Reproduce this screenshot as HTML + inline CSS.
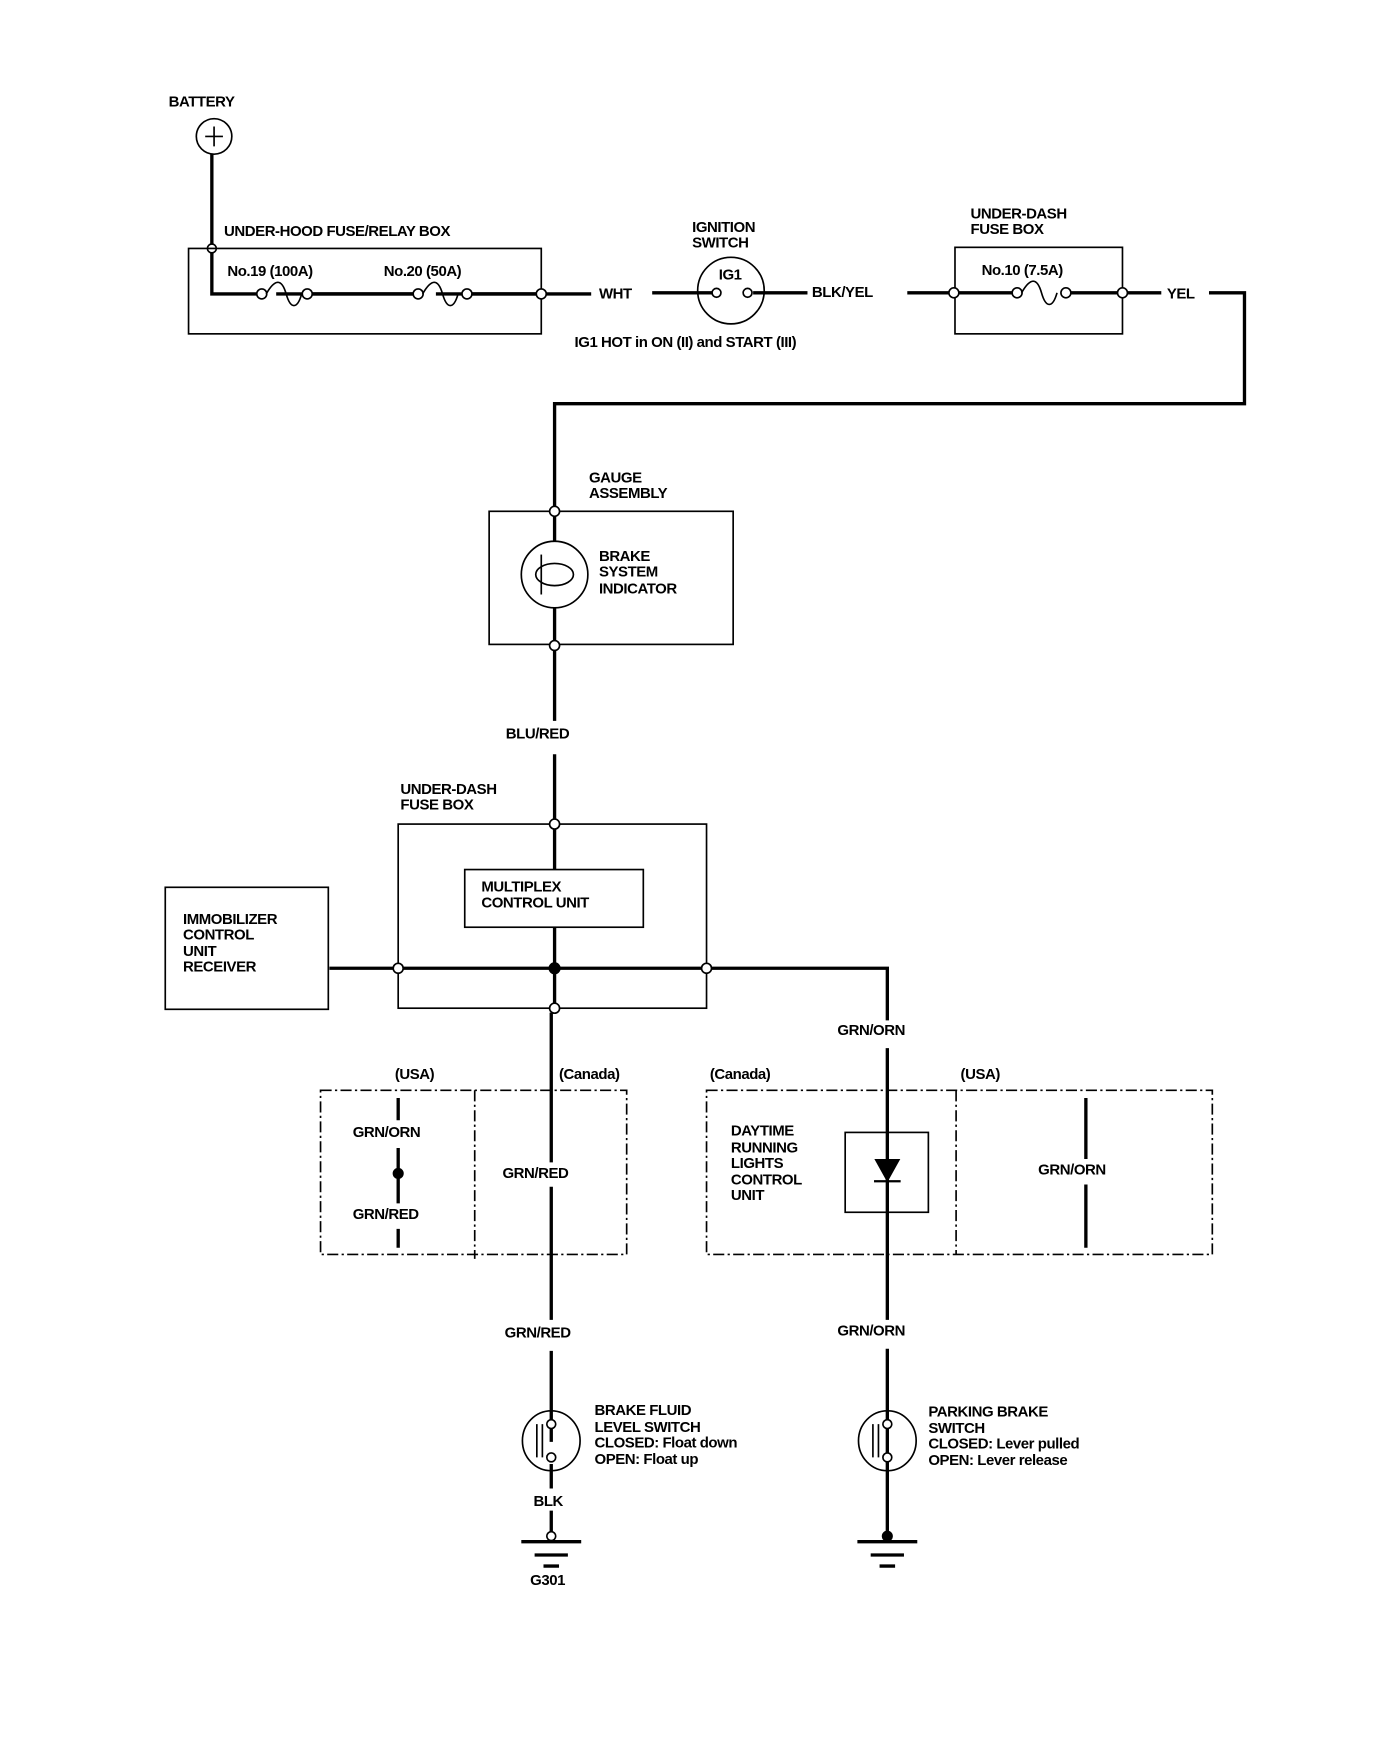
<!DOCTYPE html>
<html><head><meta charset="utf-8"><style>
html,body{margin:0;padding:0;background:#fff;}
svg{display:block;}
text{font-family:"Liberation Sans",Arial,sans-serif;font-weight:bold;font-size:13.5px;fill:#000;letter-spacing:-0.4px;}
</style></head><body>
<svg width="1392" height="1738" viewBox="0 0 1255 1567" preserveAspectRatio="none" xmlns="http://www.w3.org/2000/svg">
<g stroke="#000" fill="none" stroke-width="2">
<circle cx="193" cy="123" r="16" stroke-width="1.5"/>
<path d="M185 123h16M193 114v18" stroke-width="1.5"/>
<path d="M191 139V265H232M249 265H376M393 265H484" stroke-width="3"/>
<circle cx="191" cy="224" r="4" fill="#fff" stroke-width="1.5"/>
<rect x="170" y="224" width="318" height="77" stroke-width="1.5"/>
<circle cx="236" cy="265" r="4.5" fill="#fff" stroke-width="1.5"/>
<circle cx="277" cy="265" r="4.5" fill="#fff" stroke-width="1.5"/>
<path d="M240 265c8 -14 14 -14 18 0s10 14 14 0" stroke-width="1.5"/>
<path d="M281 265H372" stroke-width="3"/>
<circle cx="377" cy="265" r="4.5" fill="#fff" stroke-width="1.5"/>
<circle cx="421" cy="265" r="4.5" fill="#fff" stroke-width="1.5"/>
<path d="M381 265c8 -14 14 -14 18 0s10 14 14 0" stroke-width="1.5"/>
<path d="M426 265H533M588 264H642M679 264H728" stroke-width="3"/>
<circle cx="488" cy="265" r="4.5" fill="#fff" stroke-width="1.5"/>
<circle cx="659" cy="262" r="30" stroke-width="1.5"/>
<circle cx="646" cy="264" r="4" fill="#fff" stroke-width="1.5"/>
<circle cx="674" cy="264" r="4" fill="#fff" stroke-width="1.5"/>
<rect x="861" y="223" width="151" height="78" stroke-width="1.5"/>
<path d="M818 264H912M965 264H1047M1090 264H1122V364H500V457" stroke-width="3"/>
<circle cx="860" cy="264" r="4.5" fill="#fff" stroke-width="1.5"/>
<circle cx="917" cy="264" r="4.5" fill="#fff" stroke-width="1.5"/>
<circle cx="961" cy="264" r="4.5" fill="#fff" stroke-width="1.5"/>
<path d="M921 264c8 -14 14 -14 18 0s10 14 14 0" stroke-width="1.5"/>
<circle cx="1012" cy="264" r="4.5" fill="#fff" stroke-width="1.5"/>
<rect x="441" y="461" width="220" height="120" stroke-width="1.5"/>
<path d="M500 465V488M500 548V578" stroke-width="3"/>
<circle cx="500" cy="518" r="30" stroke-width="1.5"/>
<path d="M488 500v36" stroke-width="1.5"/>
<ellipse cx="500" cy="518" rx="17" ry="10" stroke-width="1.5"/>
<circle cx="500" cy="461" r="4.5" fill="#fff" stroke-width="1.5"/>
<circle cx="500" cy="582" r="4.5" fill="#fff" stroke-width="1.5"/>
<path d="M500 586V650M500 680V739" stroke-width="3"/>
<rect x="359" y="743" width="278" height="166" stroke-width="1.5"/>
<rect x="419" y="784" width="161" height="52" stroke-width="1.5"/>
<circle cx="500" cy="743" r="4.5" fill="#fff" stroke-width="1.5"/>
<path d="M500 747V784M500 836V905M297 873H355M363 873H633M641 873H800V920M800 945V1190" stroke-width="3"/>
<circle cx="359" cy="873" r="4.5" fill="#fff" stroke-width="1.5"/>
<circle cx="637" cy="873" r="4.5" fill="#fff" stroke-width="1.5"/>
<circle cx="500" cy="873" r="4.5" fill="#000"/>
<circle cx="500" cy="909" r="4.5" fill="#fff" stroke-width="1.5"/>
<rect x="149" y="800" width="147" height="110" stroke-width="1.5"/>
<path d="M497 913V1048M497 1070V1190" stroke-width="3"/>
<g stroke-dasharray="10 3 2 3" stroke-width="1.5">
<rect x="289" y="983" width="276" height="148"/>
<path d="M428 983V1135"/>
<rect x="637" y="983" width="456" height="148"/>
<path d="M862 983V1131"/>
</g>
<path d="M359 990V1010M359 1035V1085M359 1108V1125" stroke-width="3"/>
<circle cx="359" cy="1058" r="4" fill="#000"/>
<path d="M979 990V1045M979 1068V1125" stroke-width="3"/>
<rect x="762" y="1021" width="75" height="72" stroke-width="1.5"/>
<path d="M790 1046H810L800 1064Z" fill="#000"/>
<path d="M788 1065H812" stroke-width="2"/>
<path d="M497 1218V1300M497 1320V1342M497 1362V1383M800 1216V1387" stroke-width="3"/>
<ellipse cx="497" cy="1299" rx="26" ry="27" stroke-width="1.5"/>
<circle cx="497" cy="1284" r="4" fill="#fff" stroke-width="1.5"/>
<circle cx="497" cy="1314" r="4" fill="#fff" stroke-width="1.5"/>
<path d="M484 1284v30M489 1284v30" stroke-width="1.5"/>
<ellipse cx="800" cy="1299" rx="26" ry="27" stroke-width="1.5"/>
<circle cx="800" cy="1284" r="4" fill="#fff" stroke-width="1.5"/>
<circle cx="800" cy="1314" r="4" fill="#fff" stroke-width="1.5"/>
<path d="M787 1284v30M792 1284v30" stroke-width="1.5"/>
<circle cx="497" cy="1385" r="4" fill="#fff" stroke-width="1.5"/>
<path d="M470 1390H524M482 1402H512M490 1412H504" stroke-width="3"/>
<circle cx="800" cy="1385" r="4" fill="#000"/>
<path d="M773 1390H827M785 1402H815M793 1412H807" stroke-width="3"/>
</g>
<g>
<text x="152" y="96">BATTERY</text>
<text x="202" y="213">UNDER-HOOD FUSE/RELAY BOX</text>
<text x="205" y="249">No.19 (100A)</text>
<text x="346" y="249">No.20 (50A)</text>
<text x="540" y="269">WHT</text>
<text x="624" y="209">IGNITION</text>
<text x="624" y="223">SWITCH</text>
<text x="648" y="252">IG1</text>
<text x="732" y="268">BLK/YEL</text>
<text x="518" y="313">IG1 HOT in ON (II) and START (III)</text>
<text x="875" y="197">UNDER-DASH</text>
<text x="875" y="211">FUSE BOX</text>
<text x="885" y="248">No.10 (7.5A)</text>
<text x="1052" y="269">YEL</text>
<text x="531" y="435">GAUGE</text>
<text x="531" y="449">ASSEMBLY</text>
<text x="540" y="506">BRAKE</text>
<text x="540" y="520">SYSTEM</text>
<text x="540" y="535">INDICATOR</text>
<text x="456" y="666">BLU/RED</text>
<text x="361" y="716">UNDER-DASH</text>
<text x="361" y="730">FUSE BOX</text>
<text x="434" y="804">MULTIPLEX</text>
<text x="434" y="818">CONTROL UNIT</text>
<text x="165" y="833">IMMOBILIZER</text>
<text x="165" y="847">CONTROL</text>
<text x="165" y="862">UNIT</text>
<text x="165" y="876">RECEIVER</text>
<text x="755" y="933">GRN/ORN</text>
<text x="356" y="973">(USA)</text>
<text x="504" y="973">(Canada)</text>
<text x="640" y="973">(Canada)</text>
<text x="866" y="973">(USA)</text>
<text x="318" y="1025">GRN/ORN</text>
<text x="318" y="1099">GRN/RED</text>
<text x="453" y="1062">GRN/RED</text>
<text x="659" y="1024">DAYTIME</text>
<text x="659" y="1039">RUNNING</text>
<text x="659" y="1053">LIGHTS</text>
<text x="659" y="1068">CONTROL</text>
<text x="659" y="1082">UNIT</text>
<text x="936" y="1059">GRN/ORN</text>
<text x="455" y="1206">GRN/RED</text>
<text x="755" y="1204">GRN/ORN</text>
<text x="536" y="1276">BRAKE FLUID</text>
<text x="536" y="1291">LEVEL SWITCH</text>
<text x="536" y="1305">CLOSED: Float down</text>
<text x="536" y="1320">OPEN: Float up</text>
<text x="837" y="1277">PARKING BRAKE</text>
<text x="837" y="1292">SWITCH</text>
<text x="837" y="1306">CLOSED: Lever pulled</text>
<text x="837" y="1321">OPEN: Lever release</text>
<text x="481" y="1358">BLK</text>
<text x="478" y="1429">G301</text>
</g>
</svg>
</body></html>
